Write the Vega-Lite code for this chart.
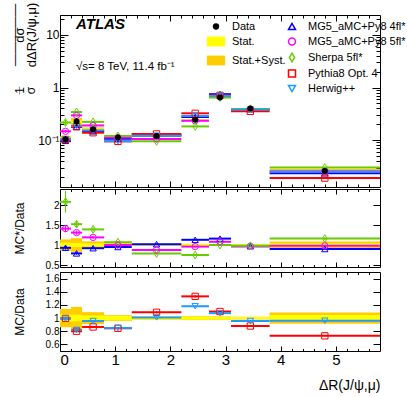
{
  "$schema": "https://vega.github.io/schema/vega-lite/v6.json",
  "padding": {"left": 8, "top": 1, "right": 24, "bottom": 5},
  "background": "white",
  "config": {
    "font": "Liberation Sans",
    "view": {"stroke": "black", "strokeWidth": 1},
    "concat": {"spacing": 0},
    "axis": {"domain": false, "grid": false, "tickColor": "black", "labelColor": "black", "titleColor": "black", "tickWidth": 1, "titleFontWeight": "normal", "labelFont": "Liberation Sans", "titleFont": "Liberation Sans"},
    "legend": {"labelFont": "Liberation Sans", "labelColor": "black", "labelLimit": 300}
  },
  "datasets": {
    "dat": [
      {"xlo": 0.0, "xhi": 0.2, "xc": 0.1, "d": 0.104, "slo": 0.0978, "shi": 0.1102, "tlo": 0.0894, "thi": 0.1186, "rslo": 0.94, "rshi": 1.06, "rtlo": 0.86, "rthi": 1.14},
      {"xlo": 0.2, "xhi": 0.4, "xc": 0.3, "d": 0.225, "slo": 0.2138, "shi": 0.2363, "tlo": 0.1868, "thi": 0.2633, "rslo": 0.95, "rshi": 1.05, "rtlo": 0.83, "rthi": 1.17},
      {"xlo": 0.4, "xhi": 0.8, "xc": 0.6, "d": 0.160, "slo": 0.1536, "shi": 0.1664, "tlo": 0.1456, "thi": 0.1744, "rslo": 0.96, "rshi": 1.04, "rtlo": 0.91, "rthi": 1.09},
      {"xlo": 0.8, "xhi": 1.3, "xc": 1.05, "d": 0.112, "slo": 0.1081, "shi": 0.1159, "tlo": 0.1070, "thi": 0.1170, "rslo": 0.965, "rshi": 1.035, "rtlo": 0.955, "rthi": 1.045},
      {"xlo": 1.3, "xhi": 2.2, "xc": 1.75, "d": 0.120, "slo": 0.1176, "shi": 0.1224, "tlo": 0.1170, "thi": 0.1230, "rslo": 0.98, "rshi": 1.02, "rtlo": 0.975, "rthi": 1.025},
      {"xlo": 2.2, "xhi": 2.7, "xc": 2.45, "d": 0.243, "slo": 0.2369, "shi": 0.2491, "tlo": 0.2357, "thi": 0.2503, "rslo": 0.975, "rshi": 1.025, "rtlo": 0.97, "rthi": 1.03},
      {"xlo": 2.7, "xhi": 3.1, "xc": 2.9, "d": 0.645, "slo": 0.6321, "shi": 0.6579, "tlo": 0.6289, "thi": 0.6611, "rslo": 0.98, "rshi": 1.02, "rtlo": 0.975, "rthi": 1.025},
      {"xlo": 3.1, "xhi": 3.8, "xc": 3.45, "d": 0.400, "slo": 0.394, "shi": 0.406, "tlo": 0.392, "thi": 0.408, "rslo": 0.985, "rshi": 1.015, "rtlo": 0.98, "rthi": 1.02},
      {"xlo": 3.8, "xhi": 5.8, "xc": 4.8, "d": 0.0259, "slo": 0.0247, "shi": 0.0271, "tlo": 0.0237, "thi": 0.0281, "rslo": 0.955, "rshi": 1.045, "rtlo": 0.915, "rthi": 1.085}
    ],
    "mc": [
      {"model": "MG5_aMC+Py8 4fl*", "xlo": 0.0, "xhi": 0.2, "xc": 0.1, "v": 0.0967, "vlo": 0.0919, "vhi": 0.1015, "r": 0.93, "rlo": 0.884, "rhi": 0.977},
      {"model": "MG5_aMC+Py8 4fl*", "xlo": 0.2, "xhi": 0.4, "xc": 0.3, "v": 0.178, "vlo": 0.171, "vhi": 0.185, "r": 0.79, "rlo": 0.758, "rhi": 0.822},
      {"model": "MG5_aMC+Py8 4fl*", "xlo": 0.4, "xhi": 0.8, "xc": 0.6, "v": 0.147, "vlo": 0.143, "vhi": 0.151, "r": 0.92, "rlo": 0.892, "rhi": 0.948},
      {"model": "MG5_aMC+Py8 4fl*", "xlo": 0.8, "xhi": 1.3, "xc": 1.05, "v": 0.106, "vlo": 0.104, "vhi": 0.108, "r": 0.95, "rlo": 0.931, "rhi": 0.969},
      {"model": "MG5_aMC+Py8 4fl*", "xlo": 1.3, "xhi": 2.2, "xc": 1.75, "v": 0.122, "vlo": 0.120, "vhi": 0.124, "r": 1.02, "rlo": 1.0, "rhi": 1.04},
      {"model": "MG5_aMC+Py8 4fl*", "xlo": 2.2, "xhi": 2.7, "xc": 2.45, "v": 0.275, "vlo": 0.270, "vhi": 0.280, "r": 1.13, "rlo": 1.107, "rhi": 1.153},
      {"model": "MG5_aMC+Py8 4fl*", "xlo": 2.7, "xhi": 3.1, "xc": 2.9, "v": 0.748, "vlo": 0.733, "vhi": 0.763, "r": 1.16, "rlo": 1.137, "rhi": 1.183},
      {"model": "MG5_aMC+Py8 4fl*", "xlo": 3.1, "xhi": 3.8, "xc": 3.45, "v": 0.388, "vlo": 0.380, "vhi": 0.396, "r": 0.97, "rlo": 0.951, "rhi": 0.989},
      {"model": "MG5_aMC+Py8 4fl*", "xlo": 3.8, "xhi": 5.8, "xc": 4.8, "v": 0.0233, "vlo": 0.0228, "vhi": 0.0238, "r": 0.90, "rlo": 0.882, "rhi": 0.918},
      {"model": "MG5_aMC+Py8 5fl*", "xlo": 0.0, "xhi": 0.2, "xc": 0.1, "v": 0.147, "vlo": 0.138, "vhi": 0.156, "r": 1.41, "rlo": 1.325, "rhi": 1.495},
      {"model": "MG5_aMC+Py8 5fl*", "xlo": 0.2, "xhi": 0.4, "xc": 0.3, "v": 0.295, "vlo": 0.283, "vhi": 0.307, "r": 1.31, "rlo": 1.258, "rhi": 1.362},
      {"model": "MG5_aMC+Py8 5fl*", "xlo": 0.4, "xhi": 0.8, "xc": 0.6, "v": 0.190, "vlo": 0.184, "vhi": 0.196, "r": 1.19, "rlo": 1.154, "rhi": 1.226},
      {"model": "MG5_aMC+Py8 5fl*", "xlo": 0.8, "xhi": 1.3, "xc": 1.05, "v": 0.112, "vlo": 0.110, "vhi": 0.114, "r": 1.00, "rlo": 0.98, "rhi": 1.02},
      {"model": "MG5_aMC+Py8 5fl*", "xlo": 1.3, "xhi": 2.2, "xc": 1.75, "v": 0.105, "vlo": 0.103, "vhi": 0.107, "r": 0.875, "rlo": 0.858, "rhi": 0.893},
      {"model": "MG5_aMC+Py8 5fl*", "xlo": 2.2, "xhi": 2.7, "xc": 2.45, "v": 0.233, "vlo": 0.228, "vhi": 0.238, "r": 0.96, "rlo": 0.941, "rhi": 0.979},
      {"model": "MG5_aMC+Py8 5fl*", "xlo": 2.7, "xhi": 3.1, "xc": 2.9, "v": 0.697, "vlo": 0.683, "vhi": 0.711, "r": 1.08, "rlo": 1.058, "rhi": 1.102},
      {"model": "MG5_aMC+Py8 5fl*", "xlo": 3.1, "xhi": 3.8, "xc": 3.45, "v": 0.388, "vlo": 0.380, "vhi": 0.396, "r": 0.97, "rlo": 0.951, "rhi": 0.989},
      {"model": "MG5_aMC+Py8 5fl*", "xlo": 3.8, "xhi": 5.8, "xc": 4.8, "v": 0.0254, "vlo": 0.0249, "vhi": 0.0259, "r": 0.98, "rlo": 0.960, "rhi": 1.0},
      {"model": "Sherpa 5fl*", "xlo": 0.0, "xhi": 0.2, "xc": 0.1, "v": 0.216, "vlo": 0.188, "vhi": 0.244, "r": 2.08, "rlo": 1.81, "rhi": 2.35},
      {"model": "Sherpa 5fl*", "xlo": 0.2, "xhi": 0.4, "xc": 0.3, "v": 0.342, "vlo": 0.325, "vhi": 0.359, "r": 1.52, "rlo": 1.444, "rhi": 1.596},
      {"model": "Sherpa 5fl*", "xlo": 0.4, "xhi": 0.8, "xc": 0.6, "v": 0.222, "vlo": 0.213, "vhi": 0.231, "r": 1.39, "rlo": 1.334, "rhi": 1.446},
      {"model": "Sherpa 5fl*", "xlo": 0.8, "xhi": 1.3, "xc": 1.05, "v": 0.120, "vlo": 0.116, "vhi": 0.124, "r": 1.07, "rlo": 1.038, "rhi": 1.102},
      {"model": "Sherpa 5fl*", "xlo": 1.3, "xhi": 2.2, "xc": 1.75, "v": 0.0948, "vlo": 0.0920, "vhi": 0.0976, "r": 0.79, "rlo": 0.766, "rhi": 0.814},
      {"model": "Sherpa 5fl*", "xlo": 2.2, "xhi": 2.7, "xc": 2.45, "v": 0.182, "vlo": 0.177, "vhi": 0.187, "r": 0.75, "rlo": 0.728, "rhi": 0.773},
      {"model": "Sherpa 5fl*", "xlo": 2.7, "xhi": 3.1, "xc": 2.9, "v": 0.645, "vlo": 0.632, "vhi": 0.658, "r": 1.00, "rlo": 0.98, "rhi": 1.02},
      {"model": "Sherpa 5fl*", "xlo": 3.1, "xhi": 3.8, "xc": 3.45, "v": 0.392, "vlo": 0.384, "vhi": 0.400, "r": 0.98, "rlo": 0.960, "rhi": 1.0},
      {"model": "Sherpa 5fl*", "xlo": 3.8, "xhi": 5.8, "xc": 4.8, "v": 0.0300, "vlo": 0.0291, "vhi": 0.0309, "r": 1.16, "rlo": 1.125, "rhi": 1.195},
      {"model": "Pythia8 Opt. 4", "xlo": 0.0, "xhi": 0.2, "xc": 0.1, "v": 0.103, "vlo": 0.1015, "vhi": 0.1045, "r": 0.995, "rlo": 0.98, "rhi": 1.01},
      {"model": "Pythia8 Opt. 4", "xlo": 0.2, "xhi": 0.4, "xc": 0.3, "v": 0.180, "vlo": 0.177, "vhi": 0.183, "r": 0.80, "rlo": 0.788, "rhi": 0.812},
      {"model": "Pythia8 Opt. 4", "xlo": 0.4, "xhi": 0.8, "xc": 0.6, "v": 0.138, "vlo": 0.136, "vhi": 0.140, "r": 0.865, "rlo": 0.852, "rhi": 0.878},
      {"model": "Pythia8 Opt. 4", "xlo": 0.8, "xhi": 1.3, "xc": 1.05, "v": 0.0946, "vlo": 0.0932, "vhi": 0.0960, "r": 0.845, "rlo": 0.832, "rhi": 0.858},
      {"model": "Pythia8 Opt. 4", "xlo": 1.3, "xhi": 2.2, "xc": 1.75, "v": 0.131, "vlo": 0.129, "vhi": 0.133, "r": 1.088, "rlo": 1.072, "rhi": 1.104},
      {"model": "Pythia8 Opt. 4", "xlo": 2.2, "xhi": 2.7, "xc": 2.45, "v": 0.323, "vlo": 0.318, "vhi": 0.328, "r": 1.33, "rlo": 1.31, "rhi": 1.35},
      {"model": "Pythia8 Opt. 4", "xlo": 2.7, "xhi": 3.1, "xc": 2.9, "v": 0.710, "vlo": 0.699, "vhi": 0.721, "r": 1.10, "rlo": 1.084, "rhi": 1.116},
      {"model": "Pythia8 Opt. 4", "xlo": 3.1, "xhi": 3.8, "xc": 3.45, "v": 0.352, "vlo": 0.347, "vhi": 0.357, "r": 0.88, "rlo": 0.867, "rhi": 0.893},
      {"model": "Pythia8 Opt. 4", "xlo": 3.8, "xhi": 5.8, "xc": 4.8, "v": 0.0189, "vlo": 0.0186, "vhi": 0.0192, "r": 0.73, "rlo": 0.719, "rhi": 0.741},
      {"model": "Herwig++", "xlo": 0.0, "xhi": 0.2, "xc": 0.1, "v": 0.103, "vlo": 0.1015, "vhi": 0.1045, "r": 0.99, "rlo": 0.975, "rhi": 1.005},
      {"model": "Herwig++", "xlo": 0.2, "xhi": 0.4, "xc": 0.3, "v": 0.185, "vlo": 0.182, "vhi": 0.188, "r": 0.82, "rlo": 0.808, "rhi": 0.832},
      {"model": "Herwig++", "xlo": 0.4, "xhi": 0.8, "xc": 0.6, "v": 0.153, "vlo": 0.151, "vhi": 0.155, "r": 0.955, "rlo": 0.941, "rhi": 0.969},
      {"model": "Herwig++", "xlo": 0.8, "xhi": 1.3, "xc": 1.05, "v": 0.0952, "vlo": 0.0938, "vhi": 0.0966, "r": 0.85, "rlo": 0.837, "rhi": 0.863},
      {"model": "Herwig++", "xlo": 1.3, "xhi": 2.2, "xc": 1.75, "v": 0.121, "vlo": 0.119, "vhi": 0.123, "r": 1.01, "rlo": 0.995, "rhi": 1.025},
      {"model": "Herwig++", "xlo": 2.2, "xhi": 2.7, "xc": 2.45, "v": 0.287, "vlo": 0.283, "vhi": 0.291, "r": 1.18, "rlo": 1.162, "rhi": 1.198},
      {"model": "Herwig++", "xlo": 2.7, "xhi": 3.1, "xc": 2.9, "v": 0.693, "vlo": 0.683, "vhi": 0.703, "r": 1.075, "rlo": 1.059, "rhi": 1.091},
      {"model": "Herwig++", "xlo": 3.1, "xhi": 3.8, "xc": 3.45, "v": 0.382, "vlo": 0.376, "vhi": 0.388, "r": 0.955, "rlo": 0.941, "rhi": 0.969},
      {"model": "Herwig++", "xlo": 3.8, "xhi": 5.8, "xc": 4.8, "v": 0.0249, "vlo": 0.0245, "vhi": 0.0253, "r": 0.96, "rlo": 0.946, "rhi": 0.974}
    ]
  },
  "resolve": {"scale": {"x": "shared", "y": "independent", "stroke": "shared", "shape": "shared", "fill": "shared", "color": "shared"}},
  "vconcat": [
    {
      "width": 320, "height": 172,
      "title": {"text": "ATLAS", "subtitle": "√s= 8 TeV, 11.4 fb⁻¹", "anchor": "start", "frame": "group", "orient": "top", "offset": -70, "dx": 16, "font": "Liberation Sans", "fontSize": 15, "fontStyle": "italic", "fontWeight": "bold", "color": "black", "subtitleFont": "Liberation Sans", "subtitleFontSize": 11.5, "subtitleColor": "black", "subtitlePadding": 29},
      "resolve": {"axis": {"x": "independent", "y": "independent"}},
      "layer": [
        {"data": {"name": "dat"}, "mark": {"type": "rect"},
         "encoding": {
           "x": {"field": "xlo", "type": "quantitative", "scale": {"domain": [0, 5.8], "nice": false, "zero": false}, "axis": {"orient": "bottom", "values": [0, 1, 2, 3, 4, 5], "labels": false, "tickSize": -6, "title": null}},
           "x2": {"field": "xhi"},
           "y": {"field": "tlo", "type": "quantitative", "scale": {"type": "log", "domain": [0.0128, 24], "nice": false}, "axis": {"orient": "left", "values": [0.1, 1, 10], "tickSize": -8, "labelPadding": 9, "labelFontSize": 12, "labelExpr": "datum.value < 0.5 ? '10⁻¹' : datum.value < 5 ? '1' : '10'", "title": ["dσ", "dΔR(J/ψ,μ)"], "titleFontSize": 13, "titleAngle": -90, "titleX": -33.5, "titleY": 19.5, "titleAlign": "center", "titleBaseline": "bottom", "titleLineHeight": 11.5}},
           "y2": {"field": "thi"},
           "fill": {"datum": "Stat.+Syst.", "type": "nominal", "scale": {"domain": ["Stat.", "Stat.+Syst."], "range": ["#FFFF00", "#FFCC00"]},
             "legend": {"orient": "none", "direction": "vertical", "legendX": 150.5, "legendY": 21, "title": null, "labelFontSize": 11, "symbolType": "M-2.6,-1.4H2.6V1.4H-2.6Z", "symbolSize": 49, "symbolStrokeColor": "transparent", "labelOffset": 10.5, "rowPadding": 2, "labelBaseline": "middle"}}
         }},
        {"data": {"name": "dat"}, "mark": {"type": "rect"},
         "encoding": {
           "x": {"field": "xlo", "type": "quantitative", "scale": {"domain": [0, 5.8], "nice": false, "zero": false}, "axis": {"orient": "top", "values": [0, 1, 2, 3, 4, 5], "labels": false, "tickSize": -6, "title": null}},
           "x2": {"field": "xhi"},
           "y": {"field": "slo", "type": "quantitative", "scale": {"type": "log", "domain": [0.0128, 24], "nice": false}, "axis": {"orient": "right", "values": [0.1, 1, 10], "labels": false, "tickSize": -8, "title": null}},
           "y2": {"field": "shi"},
           "fill": {"datum": "Stat.", "type": "nominal", "scale": {"domain": ["Stat.", "Stat.+Syst."], "range": ["#FFFF00", "#FFCC00"]}}
         }},
        {"data": {"name": "mc"}, "mark": {"type": "rule", "strokeWidth": 2},
         "encoding": {
           "x": {"field": "xlo", "type": "quantitative", "scale": {"domain": [0, 5.8], "nice": false, "zero": false}, "axis": {"orient": "bottom", "values": [0.2, 0.4, 0.6, 0.8, 1.2, 1.4, 1.6, 1.8, 2.2, 2.4, 2.6, 2.8, 3.2, 3.4, 3.6, 3.8, 4.2, 4.4, 4.6, 4.8, 5.2, 5.4, 5.6], "labels": false, "tickSize": -3, "title": null}},
           "x2": {"field": "xhi"},
           "y": {"field": "v", "type": "quantitative", "scale": {"type": "log", "domain": [0.0128, 24], "nice": false}, "axis": {"orient": "left", "values": [0.02, 0.03, 0.04, 0.05, 0.06, 0.07, 0.08, 0.09, 0.2, 0.3, 0.4, 0.5, 0.6, 0.7, 0.8, 0.9, 2, 3, 4, 5, 6, 7, 8, 9, 20], "labels": false, "tickSize": -4, "title": ["1", "σ"], "titleFontSize": 12, "titleAngle": -90, "titleX": -33.5, "titleY": 75, "titleAlign": "center", "titleBaseline": "bottom", "titleLineHeight": 11}},
           "stroke": {"field": "model", "type": "nominal", "scale": {"domain": ["MG5_aMC+Py8 4fl*", "MG5_aMC+Py8 5fl*", "Sherpa 5fl*", "Pythia8 Opt. 4", "Herwig++"], "range": ["#0000FF", "#FF00FF", "#66CC00", "#FF0000", "#1E9BFF"]}}
         }},
        {"data": {"name": "mc"}, "mark": {"type": "rule", "strokeWidth": 1},
         "encoding": {
           "x": {"field": "xc", "type": "quantitative", "scale": {"domain": [0, 5.8], "nice": false, "zero": false}, "axis": {"orient": "top", "values": [0.2, 0.4, 0.6, 0.8, 1.2, 1.4, 1.6, 1.8, 2.2, 2.4, 2.6, 2.8, 3.2, 3.4, 3.6, 3.8, 4.2, 4.4, 4.6, 4.8, 5.2, 5.4, 5.6], "labels": false, "tickSize": -3, "title": null}},
           "y": {"field": "vlo", "type": "quantitative", "scale": {"type": "log", "domain": [0.0128, 24], "nice": false}, "axis": {"orient": "right", "values": [0.02, 0.03, 0.04, 0.05, 0.06, 0.07, 0.08, 0.09, 0.2, 0.3, 0.4, 0.5, 0.6, 0.7, 0.8, 0.9, 2, 3, 4, 5, 6, 7, 8, 9, 20], "labels": false, "tickSize": -4, "title": null}},
           "y2": {"field": "vhi"},
           "stroke": {"field": "model", "type": "nominal", "scale": {"domain": ["MG5_aMC+Py8 4fl*", "MG5_aMC+Py8 5fl*", "Sherpa 5fl*", "Pythia8 Opt. 4", "Herwig++"], "range": ["#0000FF", "#FF00FF", "#66CC00", "#FF0000", "#1E9BFF"]}}
         }},
        {"data": {"name": "mc"}, "mark": {"type": "point", "filled": false, "size": 40, "strokeWidth": 1, "opacity": 1},
         "encoding": {
           "x": {"field": "xc", "type": "quantitative", "scale": {"domain": [0, 5.8], "nice": false, "zero": false}, "axis": null},
           "y": {"field": "v", "type": "quantitative", "scale": {"type": "log", "domain": [0.0128, 24], "nice": false}, "axis": {"orient": "left", "values": [1], "ticks": false, "labels": false, "title": "—————", "titleFontSize": 12.5, "titleAngle": -90, "titleX": -41.3, "titleY": 19.5, "titleAlign": "center", "titleBaseline": "alphabetic"}},
           "stroke": {"field": "model", "type": "nominal", "scale": {"domain": ["MG5_aMC+Py8 4fl*", "MG5_aMC+Py8 5fl*", "Sherpa 5fl*", "Pythia8 Opt. 4", "Herwig++"], "range": ["#0000FF", "#FF00FF", "#66CC00", "#FF0000", "#1E9BFF"]},
             "legend": {"orient": "none", "direction": "vertical", "legendX": 226.5, "legendY": 6, "title": null, "labelFontSize": 11, "labelLimit": 300, "symbolSize": 49, "symbolStrokeWidth": 1.5, "symbolFillColor": "transparent", "labelOffset": 10.5, "rowPadding": 2, "labelBaseline": "middle"}},
           "shape": {"field": "model", "type": "nominal", "scale": {"domain": ["MG5_aMC+Py8 4fl*", "MG5_aMC+Py8 5fl*", "Sherpa 5fl*", "Pythia8 Opt. 4", "Herwig++"], "range": ["triangle-up", "circle", "M0,-1.25L0.75,0L0,1.25L-0.75,0Z", "square", "triangle-down"]},
             "legend": {"orient": "none", "direction": "vertical", "legendX": 226.5, "legendY": 6, "title": null, "labelFontSize": 11, "labelLimit": 300, "symbolSize": 49, "symbolStrokeWidth": 1.5, "symbolFillColor": "transparent", "labelOffset": 10.5, "rowPadding": 2, "labelBaseline": "middle"}}
         }},
        {"data": {"name": "dat"}, "mark": {"type": "rule", "strokeWidth": 1, "color": "black"},
         "encoding": {
           "x": {"field": "xc", "type": "quantitative", "scale": {"domain": [0, 5.8], "nice": false, "zero": false}, "axis": null},
           "y": {"field": "tlo", "type": "quantitative", "scale": {"type": "log", "domain": [0.0128, 24], "nice": false}, "axis": {"orient": "left", "values": [1], "ticks": false, "labels": false, "title": "—", "titleFontSize": 8, "titleAngle": -90, "titleX": -39.5, "titleY": 75, "titleAlign": "center", "titleBaseline": "alphabetic"}},
           "y2": {"field": "thi"}
         }},
        {"data": {"name": "dat"}, "mark": {"type": "point", "filled": true, "size": 36, "opacity": 1},
         "encoding": {
           "x": {"field": "xc", "type": "quantitative", "scale": {"domain": [0, 5.8], "nice": false, "zero": false}, "axis": null},
           "y": {"field": "d", "type": "quantitative", "scale": {"type": "log", "domain": [0.0128, 24], "nice": false}, "axis": null},
           "color": {"datum": "Data", "type": "nominal", "scale": {"domain": ["Data"], "range": ["black"]},
             "legend": {"orient": "none", "direction": "vertical", "legendX": 150.5, "legendY": 6, "title": null, "labelFontSize": 11, "symbolType": "circle", "symbolSize": 40, "labelOffset": 10.5, "rowPadding": 1, "labelBaseline": "middle"}}
         }}
      ]
    },
    {
      "width": 320, "height": 78,
      "resolve": {"axis": {"x": "independent", "y": "independent"}},
      "layer": [
        {"data": {"name": "dat"}, "mark": {"type": "rect"},
         "encoding": {
           "x": {"field": "xlo", "type": "quantitative", "scale": {"domain": [0, 5.8], "nice": false, "zero": false}, "axis": {"orient": "bottom", "values": [0, 1, 2, 3, 4, 5], "labels": false, "tickSize": -5, "title": null}},
           "x2": {"field": "xhi"},
           "y": {"field": "rtlo", "type": "quantitative", "scale": {"domain": [0.45, 2.4], "nice": false, "zero": false}, "axis": {"orient": "left", "values": [0.5, 1, 1.5, 2], "format": "~g", "tickSize": -7, "labelPadding": 8, "labelFontSize": 10, "title": "MC*/Data", "titleFontSize": 12, "titleX": -34}},
           "y2": {"field": "rthi"},
           "fill": {"datum": "Stat.+Syst.", "type": "nominal", "scale": {"domain": ["Stat.", "Stat.+Syst."], "range": ["#FFFF00", "#FFCC00"]}}
         }},
        {"data": {"name": "dat"}, "mark": {"type": "rect"},
         "encoding": {
           "x": {"field": "xlo", "type": "quantitative", "scale": {"domain": [0, 5.8], "nice": false, "zero": false}, "axis": {"orient": "top", "values": [0, 1, 2, 3, 4, 5], "labels": false, "tickSize": -5, "title": null}},
           "x2": {"field": "xhi"},
           "y": {"field": "rslo", "type": "quantitative", "scale": {"domain": [0.45, 2.4], "nice": false, "zero": false}, "axis": {"orient": "right", "values": [0.5, 1, 1.5, 2], "labels": false, "tickSize": -7, "title": null}},
           "y2": {"field": "rshi"},
           "fill": {"datum": "Stat.", "type": "nominal", "scale": {"domain": ["Stat.", "Stat.+Syst."], "range": ["#FFFF00", "#FFCC00"]}}
         }},
        {"data": {"name": "mc"}, "transform": [{"filter": {"field": "model", "oneOf": ["MG5_aMC+Py8 4fl*", "MG5_aMC+Py8 5fl*", "Sherpa 5fl*"]}}], "mark": {"type": "rule", "strokeWidth": 2},
         "encoding": {
           "x": {"field": "xlo", "type": "quantitative", "scale": {"domain": [0, 5.8], "nice": false, "zero": false}, "axis": {"orient": "bottom", "values": [0.2, 0.4, 0.6, 0.8, 1.2, 1.4, 1.6, 1.8, 2.2, 2.4, 2.6, 2.8, 3.2, 3.4, 3.6, 3.8, 4.2, 4.4, 4.6, 4.8, 5.2, 5.4, 5.6], "labels": false, "tickSize": -2.5, "title": null}},
           "x2": {"field": "xhi"},
           "y": {"field": "r", "type": "quantitative", "scale": {"domain": [0.45, 2.4], "nice": false, "zero": false}, "axis": null},
           "stroke": {"field": "model", "type": "nominal", "scale": {"domain": ["MG5_aMC+Py8 4fl*", "MG5_aMC+Py8 5fl*", "Sherpa 5fl*", "Pythia8 Opt. 4", "Herwig++"], "range": ["#0000FF", "#FF00FF", "#66CC00", "#FF0000", "#1E9BFF"]}}
         }},
        {"data": {"name": "mc"}, "transform": [{"filter": {"field": "model", "oneOf": ["MG5_aMC+Py8 4fl*", "MG5_aMC+Py8 5fl*", "Sherpa 5fl*"]}}], "mark": {"type": "rule", "strokeWidth": 1},
         "encoding": {
           "x": {"field": "xc", "type": "quantitative", "scale": {"domain": [0, 5.8], "nice": false, "zero": false}, "axis": {"orient": "top", "values": [0.2, 0.4, 0.6, 0.8, 1.2, 1.4, 1.6, 1.8, 2.2, 2.4, 2.6, 2.8, 3.2, 3.4, 3.6, 3.8, 4.2, 4.4, 4.6, 4.8, 5.2, 5.4, 5.6], "labels": false, "tickSize": -2.5, "title": null}},
           "y": {"field": "rlo", "type": "quantitative", "scale": {"domain": [0.45, 2.4], "nice": false, "zero": false}, "axis": null},
           "y2": {"field": "rhi"},
           "stroke": {"field": "model", "type": "nominal", "scale": {"domain": ["MG5_aMC+Py8 4fl*", "MG5_aMC+Py8 5fl*", "Sherpa 5fl*", "Pythia8 Opt. 4", "Herwig++"], "range": ["#0000FF", "#FF00FF", "#66CC00", "#FF0000", "#1E9BFF"]}}
         }},
        {"data": {"name": "mc"}, "transform": [{"filter": {"field": "model", "oneOf": ["MG5_aMC+Py8 4fl*", "MG5_aMC+Py8 5fl*", "Sherpa 5fl*"]}}], "mark": {"type": "point", "filled": false, "size": 40, "strokeWidth": 1, "opacity": 1},
         "encoding": {
           "x": {"field": "xc", "type": "quantitative", "scale": {"domain": [0, 5.8], "nice": false, "zero": false}, "axis": null},
           "y": {"field": "r", "type": "quantitative", "scale": {"domain": [0.45, 2.4], "nice": false, "zero": false}, "axis": null},
           "stroke": {"field": "model", "type": "nominal", "scale": {"domain": ["MG5_aMC+Py8 4fl*", "MG5_aMC+Py8 5fl*", "Sherpa 5fl*", "Pythia8 Opt. 4", "Herwig++"], "range": ["#0000FF", "#FF00FF", "#66CC00", "#FF0000", "#1E9BFF"]}},
           "shape": {"field": "model", "type": "nominal", "scale": {"domain": ["MG5_aMC+Py8 4fl*", "MG5_aMC+Py8 5fl*", "Sherpa 5fl*", "Pythia8 Opt. 4", "Herwig++"], "range": ["triangle-up", "circle", "M0,-1.25L0.75,0L0,1.25L-0.75,0Z", "square", "triangle-down"]}}
         }}
      ]
    },
    {
      "width": 320, "height": 79,
      "resolve": {"axis": {"x": "independent", "y": "independent"}},
      "layer": [
        {"data": {"name": "dat"}, "mark": {"type": "rect"},
         "encoding": {
           "x": {"field": "xlo", "type": "quantitative", "scale": {"domain": [0, 5.8], "nice": false, "zero": false}, "axis": {"orient": "bottom", "values": [0, 1, 2, 3, 4, 5], "format": "d", "tickSize": -5, "labelPadding": 6, "labelFontSize": 15, "title": "ΔR(J/ψ,μ)", "titleFontSize": 14, "titleAlign": "right", "titleX": 320, "titleY": 38, "titleBaseline": "alphabetic"}},
           "x2": {"field": "xhi"},
           "y": {"field": "rtlo", "type": "quantitative", "scale": {"domain": [0.5, 1.7], "nice": false, "zero": false}, "axis": {"orient": "left", "values": [0.6, 0.8, 1, 1.2, 1.4, 1.6], "format": "~g", "tickSize": -7, "labelPadding": 8, "labelFontSize": 10, "title": "MC/Data", "titleFontSize": 12, "titleX": -34}},
           "y2": {"field": "rthi"},
           "fill": {"datum": "Stat.+Syst.", "type": "nominal", "scale": {"domain": ["Stat.", "Stat.+Syst."], "range": ["#FFFF00", "#FFCC00"]}}
         }},
        {"data": {"name": "dat"}, "mark": {"type": "rect"},
         "encoding": {
           "x": {"field": "xlo", "type": "quantitative", "scale": {"domain": [0, 5.8], "nice": false, "zero": false}, "axis": {"orient": "top", "values": [0, 1, 2, 3, 4, 5], "labels": false, "tickSize": -5, "title": null}},
           "x2": {"field": "xhi"},
           "y": {"field": "rslo", "type": "quantitative", "scale": {"domain": [0.5, 1.7], "nice": false, "zero": false}, "axis": {"orient": "right", "values": [0.6, 0.8, 1, 1.2, 1.4, 1.6], "labels": false, "tickSize": -7, "title": null}},
           "y2": {"field": "rshi"},
           "fill": {"datum": "Stat.", "type": "nominal", "scale": {"domain": ["Stat.", "Stat.+Syst."], "range": ["#FFFF00", "#FFCC00"]}}
         }},
        {"data": {"name": "mc"}, "transform": [{"filter": {"field": "model", "oneOf": ["Pythia8 Opt. 4", "Herwig++"]}}], "mark": {"type": "rule", "strokeWidth": 2},
         "encoding": {
           "x": {"field": "xlo", "type": "quantitative", "scale": {"domain": [0, 5.8], "nice": false, "zero": false}, "axis": {"orient": "bottom", "values": [0.2, 0.4, 0.6, 0.8, 1.2, 1.4, 1.6, 1.8, 2.2, 2.4, 2.6, 2.8, 3.2, 3.4, 3.6, 3.8, 4.2, 4.4, 4.6, 4.8, 5.2, 5.4, 5.6], "labels": false, "tickSize": -2.5, "title": null}},
           "x2": {"field": "xhi"},
           "y": {"field": "r", "type": "quantitative", "scale": {"domain": [0.5, 1.7], "nice": false, "zero": false}, "axis": null},
           "stroke": {"field": "model", "type": "nominal", "scale": {"domain": ["MG5_aMC+Py8 4fl*", "MG5_aMC+Py8 5fl*", "Sherpa 5fl*", "Pythia8 Opt. 4", "Herwig++"], "range": ["#0000FF", "#FF00FF", "#66CC00", "#FF0000", "#1E9BFF"]}}
         }},
        {"data": {"name": "mc"}, "transform": [{"filter": {"field": "model", "oneOf": ["Pythia8 Opt. 4", "Herwig++"]}}], "mark": {"type": "rule", "strokeWidth": 1},
         "encoding": {
           "x": {"field": "xc", "type": "quantitative", "scale": {"domain": [0, 5.8], "nice": false, "zero": false}, "axis": {"orient": "top", "values": [0.2, 0.4, 0.6, 0.8, 1.2, 1.4, 1.6, 1.8, 2.2, 2.4, 2.6, 2.8, 3.2, 3.4, 3.6, 3.8, 4.2, 4.4, 4.6, 4.8, 5.2, 5.4, 5.6], "labels": false, "tickSize": -2.5, "title": null}},
           "y": {"field": "rlo", "type": "quantitative", "scale": {"domain": [0.5, 1.7], "nice": false, "zero": false}, "axis": null},
           "y2": {"field": "rhi"},
           "stroke": {"field": "model", "type": "nominal", "scale": {"domain": ["MG5_aMC+Py8 4fl*", "MG5_aMC+Py8 5fl*", "Sherpa 5fl*", "Pythia8 Opt. 4", "Herwig++"], "range": ["#0000FF", "#FF00FF", "#66CC00", "#FF0000", "#1E9BFF"]}}
         }},
        {"data": {"name": "mc"}, "transform": [{"filter": {"field": "model", "oneOf": ["Pythia8 Opt. 4", "Herwig++"]}}], "mark": {"type": "point", "filled": false, "size": 40, "strokeWidth": 1, "opacity": 1},
         "encoding": {
           "x": {"field": "xc", "type": "quantitative", "scale": {"domain": [0, 5.8], "nice": false, "zero": false}, "axis": null},
           "y": {"field": "r", "type": "quantitative", "scale": {"domain": [0.5, 1.7], "nice": false, "zero": false}, "axis": null},
           "stroke": {"field": "model", "type": "nominal", "scale": {"domain": ["MG5_aMC+Py8 4fl*", "MG5_aMC+Py8 5fl*", "Sherpa 5fl*", "Pythia8 Opt. 4", "Herwig++"], "range": ["#0000FF", "#FF00FF", "#66CC00", "#FF0000", "#1E9BFF"]}},
           "shape": {"field": "model", "type": "nominal", "scale": {"domain": ["MG5_aMC+Py8 4fl*", "MG5_aMC+Py8 5fl*", "Sherpa 5fl*", "Pythia8 Opt. 4", "Herwig++"], "range": ["triangle-up", "circle", "M0,-1.25L0.75,0L0,1.25L-0.75,0Z", "square", "triangle-down"]}}
         }}
      ]
    }
  ]
}
